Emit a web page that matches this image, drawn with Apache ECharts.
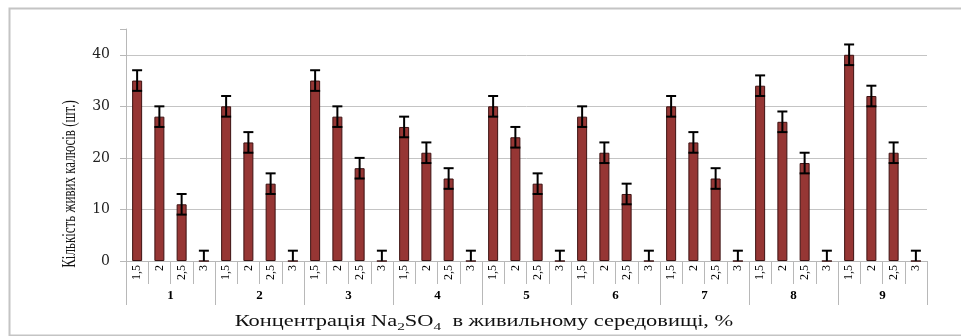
<!DOCTYPE html>
<html>
<head>
<meta charset="utf-8">
<script src="https://cdn.jsdelivr.net/npm/echarts@6/dist/echarts.min.js"></script>
<style>html,body{margin:0;padding:0;background:#fff;}#c{width:961px;height:336px;}</style>
</head>
<body>
<div id="c"></div>
<script>
const groups = ['1','2','3','4','5','6','7','8','9'];
const concentrations = ['1,5','2','2,5','3'];
const counts = [
  [35,28,11,0],
  [30,23,15,0],
  [35,28,18,0],
  [26,21,16,0],
  [30,24,15,0],
  [28,21,13,0],
  [30,23,16,0],
  [34,27,19,0],
  [40,32,21,0]
];
const errors = [
  [2,2,2,2],[2,2,2,2],[2,2,2,2],[2,2,2,2],[2,2,2,2],
  [2,2,2,2],[2,2,2,2],[2,2,2,2],[2,2,2,2]
];
const yTicks = [0,10,20,30,40];
const yName = 'Кількість живих калюсів (шт.)';
const xName = 'Концентрація Na{sub|2}SO{sub|4}  в живильному середовищі, %';

const subCats = [];
const barData = [];
const errData = [];
groups.forEach((g, gi) => {
  concentrations.forEach((c, ci) => {
    const idx = subCats.length;
    subCats.push(c);
    const v = counts[gi][ci];
    const e = errors[gi][ci];
    barData.push(v);
    errData.push([idx, Math.max(0, v - e), v + e, v]);
  });
});

const FONT = 'Liberation Serif';
const chart = echarts.init(document.getElementById('c'));
chart.setOption({
  animation: false,
  backgroundColor: '#fff',
  grid: {left: 126, right: 34, top: 29, bottom: 75, containLabel: false},
  xAxis: [
    {
      type: 'category', data: subCats, position: 'bottom',
      axisLine: {show: true, lineStyle: {color: '#b8b8b8', width: 1}},
      axisTick: {show: true, interval: 0, length: 23, lineStyle: {color: '#b8b8b8'}},
      axisLabel: {interval: 0, rotate: 90, margin: 4, fontFamily: FONT, fontSize: 12, color: '#000'},
      splitLine: {show: false}
    },
    {
      type: 'category', data: groups, position: 'bottom', offset: 0,
      axisLine: {show: false},
      axisTick: {show: true, interval: 0, length: 44, lineStyle: {color: '#b8b8b8'}},
      axisLabel: {interval: 0, margin: 28, fontFamily: FONT, fontSize: 13, fontWeight: 'bold', color: '#000'},
      splitLine: {show: false}
    }
  ],
  yAxis: {
    type: 'value', min: 0, max: 45, interval: 10,
    axisLine: {show: true, lineStyle: {color: '#b8b8b8'}},
    axisTick: {show: true, length: 6, lineStyle: {color: '#b8b8b8'}},
    axisLabel: {
      margin: 16, fontFamily: 'DejaVu Serif', fontSize: 14, color: '#222',
      formatter: v => yTicks.indexOf(v) >= 0 ? String(v) : ''
    },
    splitLine: {show: true, lineStyle: {color: ['#c4c4c4','#c4c4c4','#c4c4c4','#c4c4c4','#c4c4c4','rgba(0,0,0,0)']}}
  },
  series: [
    {
      type: 'bar', xAxisIndex: 0, data: barData, barWidth: 10,
      itemStyle: {color: '#963634', borderColor: '#3d1212', borderWidth: 1}
    },
    {
      type: 'custom', xAxisIndex: 0, data: errData, z: 5,
      renderItem: function (params, api) {
        const x = api.value(0);
        const lo = api.coord([x, api.value(1)]);
        const hi = api.coord([x, api.value(2)]);
        const hw = 5;
        const children = [
          {type: 'line', shape: {x1: hi[0], y1: hi[1], x2: lo[0], y2: lo[1]}, style: {stroke: '#000', lineWidth: 2}},
          {type: 'line', shape: {x1: hi[0]-hw, y1: hi[1], x2: hi[0]+hw, y2: hi[1]}, style: {stroke: '#000', lineWidth: 2}}
        ];
        if (api.value(3) > 0) {
          children.push({type: 'line', shape: {x1: lo[0]-hw, y1: lo[1], x2: lo[0]+hw, y2: lo[1]}, style: {stroke: '#000', lineWidth: 2}});
        }
        return {type: 'group', children: children};
      }
    }
  ],
  graphic: [
    {type: 'rect', left: 7, top: 6, shape: {width: 970, height: 327}, style: {fill: 'none', stroke: '#c4c4c4', lineWidth: 2}, silent: true},
    {
      type: 'text', x: 70, y: 184, rotation: Math.PI / 2, scaleY: 1.4,
      style: {text: yName, fontFamily: FONT, fontSize: 13, fill: '#111', align: 'center', verticalAlign: 'middle'}
    },
    {
      type: 'text', x: 484, y: 322, scaleX: 1.4,
      style: {
        text: xName, fontFamily: FONT, fontSize: 16, lineHeight: 22, fill: '#111', align: 'center', verticalAlign: 'middle',
        rich: {sub: {fontFamily: FONT, fontSize: 11, lineHeight: 12, verticalAlign: 'bottom', fill: '#111'}}
      }
    }
  ]
});
</script>
</body>
</html>
